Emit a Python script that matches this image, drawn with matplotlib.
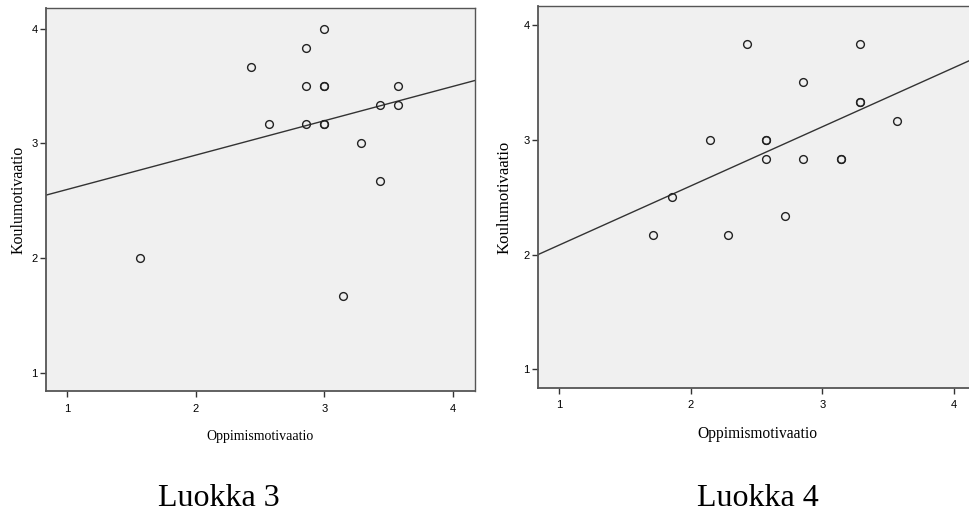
import numpy as np
import matplotlib
matplotlib.use("Agg")
import matplotlib.pyplot as plt
from matplotlib import font_manager

# Luokka 3: oppimismotivaatio (x) vs koulumotivaatio (y)
x3 = [3.0, 2.857, 2.429, 2.857, 3.0, 3.0, 3.571, 3.429, 3.571, 2.571, 2.857,
      3.0, 3.0, 3.286, 3.429, 1.571, 3.143]
y3 = [4.0, 3.833, 3.667, 3.5, 3.5, 3.5, 3.5, 3.333, 3.333, 3.167, 3.167,
      3.167, 3.167, 3.0, 2.667, 2.0, 1.667]
fit3 = (2.297, 0.300)  # intercept, slope

# Luokka 4
x4 = [2.429, 3.286, 2.857, 3.286, 3.286, 3.571, 2.143, 2.571, 2.571, 2.571,
      2.857, 3.143, 3.143, 1.857, 2.714, 1.714, 2.286]
y4 = [3.833, 3.833, 3.5, 3.333, 3.333, 3.167, 3.0, 3.0, 3.0, 2.833,
      2.833, 2.833, 2.833, 2.5, 2.333, 2.167, 2.167]
fit4 = (1.568, 0.515)

ticks = [1, 2, 3, 4]
captions = ["Luokka 3", "Luokka 4"]
xlabel = "Oppimismotivaatio"
ylabel = "Koulumotivaatio"

installed = {f.name for f in font_manager.fontManager.ttflist}
tick_font = "Liberation Sans Narrow" if "Liberation Sans Narrow" in installed else "Liberation Sans"
serif = "Liberation Serif"

W, H = 970, 515
fig = plt.figure(figsize=(W / 100, H / 100), dpi=100)


def px_axes(x0, y0, x1, y1):
    # pixel box (top-left origin) -> figure fraction axes
    return fig.add_axes([x0 / W, (H - y1) / H, (x1 - x0) / W, (y1 - y0) / H])


def panel(ax, xs, ys, fit, xlim, ylim, lab_sizes, ylab_x, xlab_y):
    ax.set_facecolor("#f0f0f0")
    ax.plot(xs, ys, "o", ms=5.6, mfc="none", mec="#222222", mew=1.0, zorder=3)
    xx = np.array(xlim)
    ax.plot(xx, fit[0] + fit[1] * xx, color="#333333", lw=1.0, zorder=2)
    ax.set_xlim(xlim)
    ax.set_ylim(ylim)
    ax.set_xticks(ticks)
    ax.set_yticks(ticks)
    ax.tick_params(direction="out", length=4, width=1.0, color="#333333",
                   labelsize=8, pad=2)
    ax.tick_params(axis="x", pad=5)
    for lab in ax.get_xticklabels() + ax.get_yticklabels():
        lab.set_family(tick_font)
    for side, sp in ax.spines.items():
        sp.set_color("#555555")
        sp.set_linewidth(1.3 if side in ("bottom", "left") else 1.0)
    ax.set_xlabel(xlabel, family=serif, fontsize=lab_sizes[0], va="center")
    ax.set_ylabel(ylabel, family=serif, fontsize=lab_sizes[1], va="center")
    ax.xaxis.set_label_coords(0.5, xlab_y)
    ax.yaxis.set_label_coords(ylab_x, 0.5)


ax1 = px_axes(46, 8, 475, 391)
panel(ax1, x3, y3, fit3, (0.837, 4.17), (0.84, 4.18), (10, 11.5), -0.065, -0.1175)

ax2 = px_axes(538, 6, 976, 388)
panel(ax2, x4, y4, fit4, (0.838, 4.17), (0.837, 4.166), (11.2, 12), -0.077, -0.120)

fig.text(219 / W, 1 - 498 / H, captions[0], family=serif, fontsize=23,
         ha="center", va="center")
fig.text(758 / W, 1 - 498 / H, captions[1], family=serif, fontsize=23,
         ha="center", va="center")

fig.savefig("out.png", dpi=100)
